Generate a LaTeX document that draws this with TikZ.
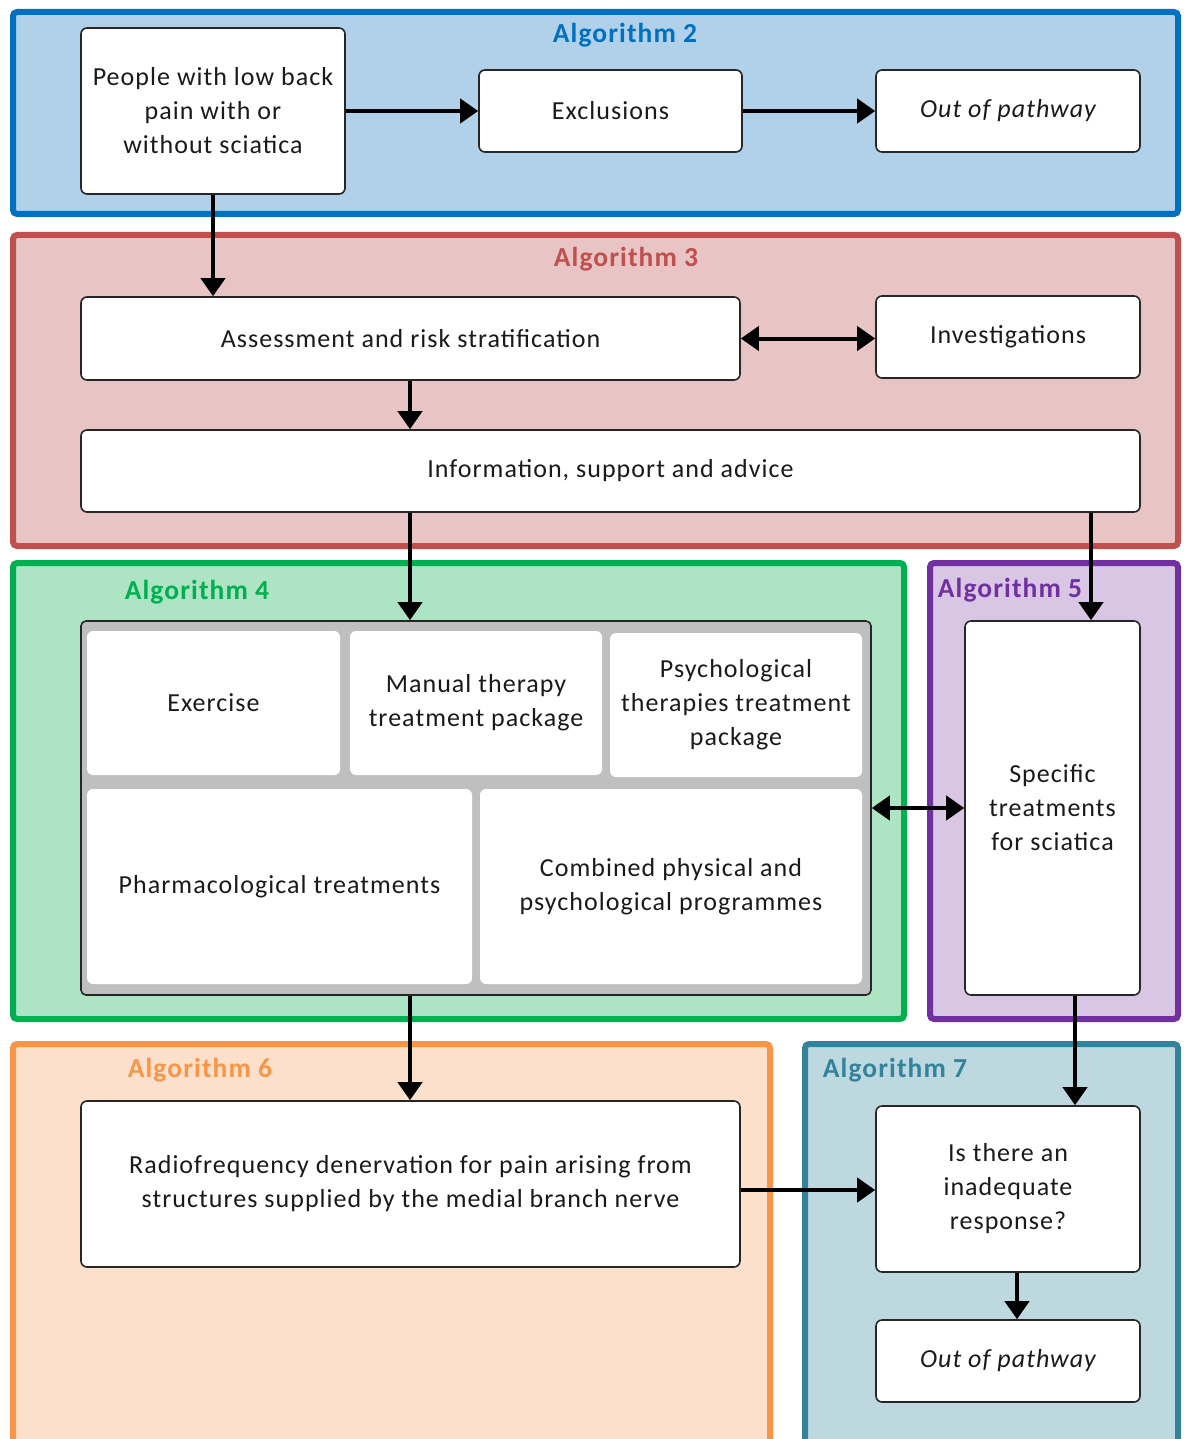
\documentclass[tikz,border=0pt]{standalone}
\usepackage{fontspec}
\setmainfont{Carlito}[LetterSpace=4]
\usetikzlibrary{arrows.meta}
\definecolor{aTwoB}{HTML}{0070C0}\definecolor{aTwoF}{HTML}{B1D1EA}
\definecolor{aThreeB}{HTML}{C0504D}\definecolor{aThreeF}{HTML}{E8C4C4}
\definecolor{aFourB}{HTML}{00B050}\definecolor{aFourF}{HTML}{ACE4C4}
\definecolor{aFiveB}{HTML}{7030A0}\definecolor{aFiveF}{HTML}{D8C6E4}
\definecolor{aSixB}{HTML}{F79646}\definecolor{aSixF}{HTML}{FCE0CC}
\definecolor{aSevenB}{HTML}{31849B}\definecolor{aSevenF}{HTML}{BED8DF}
\definecolor{txt}{HTML}{1A1A1A}
\definecolor{greyc}{HTML}{BFBFBF}
\newcommand{\bodyfs}{\fontsize{26}{34}\selectfont}
\newcommand{\labfs}{\fontsize{27.5}{30}\selectfont\bfseries}
\tikzset{
  box/.style={draw=black!85, line width=1.6pt, fill=white, rounded corners=6pt, align=center, font=\bodyfs, text=txt, inner sep=0pt},
  cell/.style={draw=none, fill=white, rounded corners=6pt, align=center, font=\bodyfs, text=txt, inner sep=0pt},
  frame/.style={line width=6pt, rounded corners=4pt},
  arr/.style={line width=4pt, -{Triangle[length=18pt,width=24pt]}},
  darr/.style={line width=4pt, {Triangle[length=18pt,width=24pt]}-{Triangle[length=18pt,width=24pt]}},
  lab/.style={font=\labfs}
}
\begin{document}
\begin{tikzpicture}[x=1pt,y=-1pt]
\clip (0,0) rectangle (1183,1439);
\fill[white] (0,0) rectangle (1183,1439);
% frames
\draw[frame, draw=aTwoB, fill=aTwoF] (13,12) rectangle (1178,214);
\draw[frame, draw=aThreeB, fill=aThreeF] (13,235) rectangle (1178,546);
\draw[frame, draw=aFourB, fill=aFourF] (13,563) rectangle (904,1019);
\draw[frame, draw=aFiveB, fill=aFiveF] (930,563) rectangle (1178,1019);
\draw[frame, draw=aSixB, fill=aSixF] (13,1044) rectangle (770,1470);
\draw[frame, draw=aSevenB, fill=aSevenF] (805,1044) rectangle (1178,1470);
% labels
\node[lab, text=aTwoB] (l2) at (625,35) {Algorithm 2};
\node[lab, text=aThreeB] (l3) at (626,259) {Algorithm 3};
\node[lab, text=aFourB] (l4) at (197,592) {Algorithm 4};
\node[lab, text=aFiveB] (l5) at (1010,590) {Algorithm 5};
\node[lab, text=aSixB] (l6) at (200,1070) {Algorithm 6};
\node[lab, text=aSevenB] (l7) at (895,1070) {Algorithm 7};
% nodes
\node[box, minimum width=264pt, minimum height=166pt] (people) at (213,111) {People with low back\\pain with or\\without sciatica};
\node[box, minimum width=263pt, minimum height=82pt] (excl) at (610.5,111) {Exclusions};
\node[box, minimum width=264pt, minimum height=82pt] (out1) at (1008,111) {\itshape Out of pathway};
\node[box, minimum width=659pt, minimum height=83pt] (assess) at (410.5,338.5) {Assessment and risk stratification};
\node[box, minimum width=264pt, minimum height=82pt] (invest) at (1008,337) {Investigations};
\node[box, minimum width=1059pt, minimum height=82pt] (info) at (610.5,471) {Information, support and advice};
\node[box, fill=greyc, rounded corners=5pt, minimum width=790pt, minimum height=374pt] (grey) at (476,808) {};
\node[cell, minimum width=253pt, minimum height=144pt] (exer) at (213.5,703) {Exercise};
\node[cell, minimum width=252pt, minimum height=144pt] (manual) at (476,703) {Manual therapy\\treatment package};
\node[cell, minimum width=252pt, minimum height=144pt] (psych) at (736,705) {Psychological\\therapies treatment\\package};
\node[cell, minimum width=385pt, minimum height=195pt] (pharma) at (279.5,886.5) {Pharmacological treatments};
\node[cell, minimum width=382pt, minimum height=195pt] (comb) at (671,886.5) {Combined physical and\\psychological programmes};
\node[box, minimum width=175pt, minimum height=374pt] (spec) at (1052.5,808) {Specific\\treatments\\for sciatica};
\node[box, minimum width=659pt, minimum height=166pt] (radio) at (410.5,1184) {Radiofrequency denervation for pain arising from\\structures supplied by the medial branch nerve};
\node[box, minimum width=264pt, minimum height=166pt] (isthere) at (1008,1189) {Is there an\\inadequate\\response?};
\node[box, minimum width=264pt, minimum height=82pt] (out2) at (1008,1361) {\itshape Out of pathway};
% helper coordinates
\coordinate (c5) at (1091,0);
\coordinate (c7) at (1075,0);
\coordinate (c8) at (1017,0);
\coordinate (c4) at (410,0);
% connectors
\draw[arr] (people.east) -- (excl.west);
\draw[arr] (excl.east) -- (out1.west);
\draw[arr] (people.south) -- (people.south |- assess.north);
\draw[darr] (assess.east) -- (assess.east -| invest.west);
\draw[arr] (c4 |- assess.south) -- (c4 |- info.north);
\draw[arr] (c4 |- info.south) -- (c4 |- grey.north);
\draw[arr] (c5 |- info.south) -- (c5 |- spec.north);
\draw[darr] (grey.east) -- (grey.east -| spec.west);
\draw[arr] (c4 |- grey.south) -- (c4 |- radio.north);
\draw[arr] (c7 |- spec.south) -- (c7 |- isthere.north);
\draw[arr] ([yshift=-6pt]radio.east) -- ([yshift=-6pt]radio.east -| isthere.west);
\draw[arr] (c8 |- isthere.south) -- (c8 |- out2.north);
\end{tikzpicture}
\end{document}
